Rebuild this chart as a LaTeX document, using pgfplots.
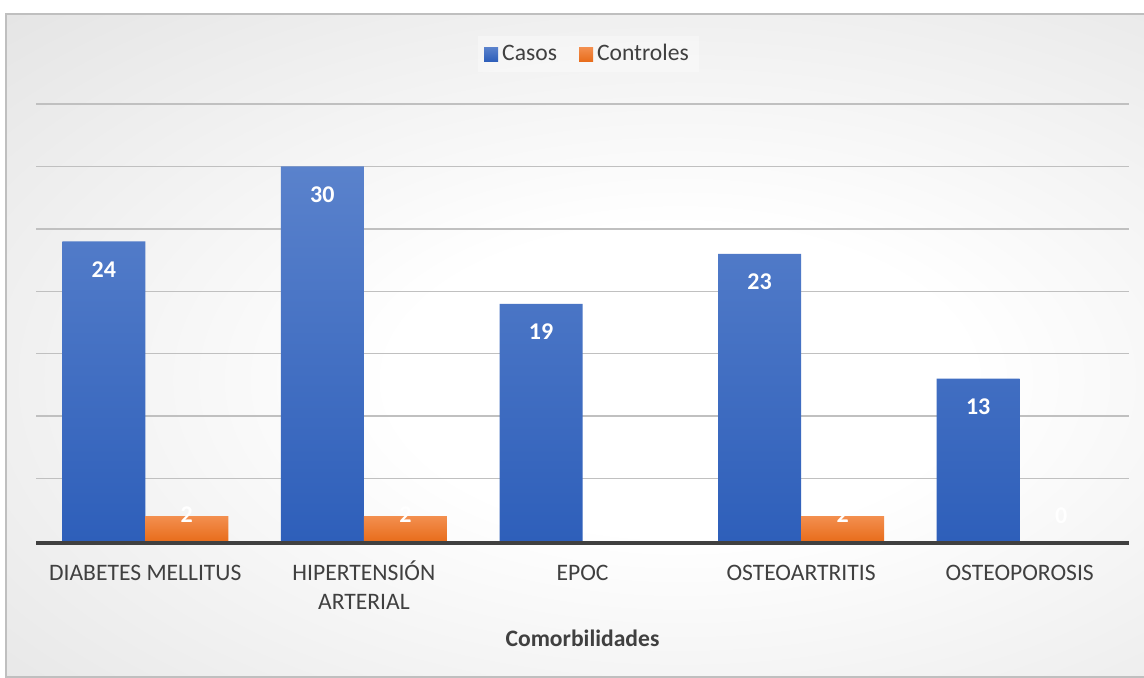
\documentclass[border=0pt]{standalone}
\usepackage{pgfplots}
\pgfplotsset{compat=1.18}
\usepackage{fontspec}
\setmainfont{Carlito}

\definecolor{casosTop}{HTML}{5A82CC}
\definecolor{casosBot}{HTML}{2E5FBA}
\definecolor{ctrlTop}{HTML}{F38F4F}
\definecolor{ctrlBot}{HTML}{E86D1C}
\definecolor{txt}{HTML}{404040}
\definecolor{gridc}{HTML}{C0C0C0}
\definecolor{framec}{HTML}{BFBFBF}

% soft radial background of the chart area
\pgfdeclareradialshading{chartbg}{\pgfpoint{0bp}{0bp}}{%
  color(0bp)=(white); color(8bp)=(white); color(50bp)=(black!23); color(75bp)=(black!23)}

\newcommand{\lblfont}{\fontsize{11.8}{14.5}\selectfont}

\begin{document}
\begin{tikzpicture}[x=0.5pt,y=0.5pt]
\useasboundingbox (0,0) rectangle (1144,678);
\fill[white] (0,0) rectangle (1144,678);
\begin{scope}
  \clip (6,1) rectangle (1150,664);
  \shade[shading=chartbg] (-220,-182) rectangle (1580,778);
\end{scope}
\draw[framec, line width=0.75pt] (6,1) rectangle (1150,664);

\begin{axis}[
  at={(18pt,68.5pt)}, anchor=south west,
  width=546.5pt, height=218.5pt, scale only axis,
  xmin=-0.5, xmax=4.5, ymin=0, ymax=35,
  clip=false,
  ybar, bar width=41.5pt,
  axis line style={draw=none},
  major tick length=0pt,
  xtick={0,...,4},
  xticklabels={{\strut DIABETES MELLITUS},{\strut HIPERTENSIÓN\\ARTERIAL},{\strut EPOC},{\strut OSTEOARTRITIS},{\strut OSTEOPOROSIS}},
  xticklabel style={font=\lblfont, text=txt, align=center, anchor=north, inner sep=0pt, yshift=-9.3pt},
  ytick={5,10,...,35}, yticklabel=\empty,
  ymajorgrids, grid style={gridc, line width=0.75pt},
  xlabel={Comorbilidades},
  xlabel style={font=\lblfont\bfseries, text=txt, at={(axis description cs:0.5,0)}, anchor=base, inner sep=0pt, yshift=-53pt},
  legend columns=2,
  legend style={at={(0.5055,1.114)}, anchor=center, draw=none, fill=white, fill opacity=0.35, text opacity=1,
    font=\lblfont, text=txt, /tikz/every even column/.append style={column sep=9pt}},
  legend image code/.code={\path[#1, draw=none, fill opacity=1] (0pt,-3.5pt) rectangle (7pt,3.5pt);},
  /pgf/number format/assume math mode=true,
  nodes near coords,
  every node near coord/.append style={font=\fontsize{12}{14}\selectfont\bfseries, text=white, anchor=center, inner sep=0pt},
]
% Casos
\addplot[bar shift=-20.75pt, draw=none, top color=casosTop, bottom color=casosBot,
  nodes near coords style={yshift=-14pt}]
  coordinates {(0,24) (1,30) (2,19) (3,23) (4,13)};
\addlegendentry{Casos}
% Controles (no value for EPOC)
\addplot[bar shift=20.75pt, draw=none, top color=ctrlTop, bottom color=ctrlBot,
  nodes near coords style={yshift=0.5pt}]
  coordinates {(0,2) (1,2) (3,2)};
\addlegendentry{Controles}
% Controles with zero count: only its label shows
\addplot[forget plot, bar shift=20.75pt, draw=none, fill=none,
  nodes near coords style={yshift=12.7pt}]
  coordinates {(4,0)};
% baseline
\draw[txt, line width=2pt] ([yshift=-1pt]rel axis cs:0,0) -- ([yshift=-1pt]rel axis cs:1,0);
\end{axis}
\end{tikzpicture}
\end{document}
